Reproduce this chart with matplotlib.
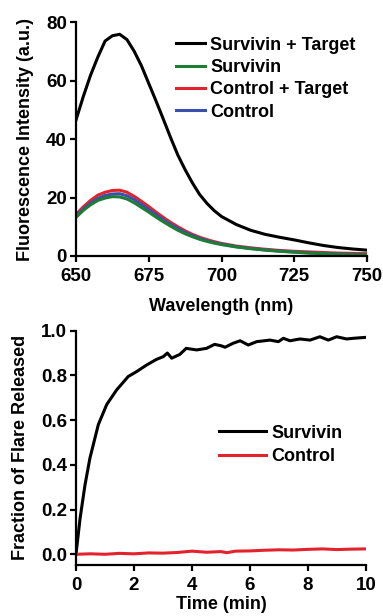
import matplotlib
matplotlib.use("Agg")
import matplotlib.pyplot as plt

plt.rcParams['font.family'] = ['Liberation Sans', 'DejaVu Sans']
plt.rcParams['font.weight'] = 'bold'

# ---- Top panel data: fluorescence spectra ----
wavelength = [650, 652.5, 655, 657.5, 660, 662.5, 665, 667.5, 670, 672.5, 675, 677.5,
              680, 682.5, 685, 687.5, 690, 692.5, 695, 697.5, 700, 705, 710, 715, 720,
              725, 730, 735, 740, 745, 750]
survivin_target = [46.5, 54.5, 61.8, 68.0, 73.5, 75.3, 75.8, 74.0, 70.0, 65.0, 59.0, 53.0,
                   46.8, 40.5, 34.5, 29.5, 25.0, 21.0, 18.0, 15.5, 13.5, 10.8, 8.8, 7.4, 6.4,
                   5.5, 4.5, 3.6, 2.9, 2.4, 2.0]
survivin = [13.2, 15.6, 17.5, 19.0, 19.8, 20.3, 20.2, 19.5, 18.2, 16.6, 15.0, 13.3,
            11.7, 10.2, 8.8, 7.6, 6.6, 5.7, 5.0, 4.4, 3.9, 3.1, 2.5, 2.0, 1.6,
            1.3, 1.0, 0.8, 0.6, 0.5, 0.4]
control_target = [14.2, 16.8, 19.0, 20.8, 21.8, 22.4, 22.5, 21.8, 20.4, 18.7, 16.9, 15.0,
                  13.2, 11.5, 10.0, 8.6, 7.4, 6.4, 5.6, 4.9, 4.3, 3.4, 2.8, 2.3, 1.9,
                  1.6, 1.4, 1.2, 1.0, 0.9, 0.8]
control = [13.6, 16.1, 18.1, 19.7, 20.7, 21.2, 21.3, 20.6, 19.3, 17.6, 15.9, 14.1,
           12.4, 10.8, 9.4, 8.1, 7.0, 6.0, 5.3, 4.6, 4.1, 3.2, 2.6, 2.1, 1.7,
           1.4, 1.1, 0.9, 0.7, 0.6, 0.5]
spec_labels = ['Survivin + Target', 'Survivin', 'Control + Target', 'Control']

# ---- Bottom panel data: kinetics ----
time_surv = [0, 0.14, 0.31, 0.48, 0.77, 1.06, 1.4, 1.8, 2.09, 2.44, 2.78, 3.01, 3.15,
             3.3, 3.58, 3.8, 4.16, 4.5, 4.78, 5.02, 5.14, 5.42, 5.66, 5.94, 6.23, 6.69,
             6.98, 7.15, 7.38, 7.72, 8.07, 8.41, 8.7, 8.99, 9.33, 9.56, 9.97]
frac_surv = [0.0, 0.16, 0.31, 0.43, 0.58, 0.67, 0.735, 0.795, 0.817, 0.847, 0.872, 0.884,
             0.90, 0.877, 0.894, 0.921, 0.914, 0.921, 0.939, 0.932, 0.926, 0.944, 0.955,
             0.936, 0.951, 0.958, 0.951, 0.966, 0.955, 0.963, 0.958, 0.973, 0.958, 0.973,
             0.963, 0.966, 0.97]
time_ctrl = [0, 0.5, 1, 1.5, 2, 2.5, 3, 3.5, 4, 4.5, 5, 5.2, 5.5, 6, 6.5, 7, 7.5, 8,
             8.5, 9, 9.5, 10]
frac_ctrl = [0.0, 0.002, 0.0, 0.004, 0.002, 0.006, 0.005, 0.008, 0.014, 0.009, 0.012, 0.007,
             0.014, 0.015, 0.018, 0.02, 0.019, 0.022, 0.024, 0.021, 0.023, 0.024]
kin_labels = ['Survivin', 'Control']

W, H = 383, 616
fig = plt.figure(figsize=(W / 100, H / 100), dpi=100)

def px_axes(l, r, t, b):
    return fig.add_axes([l / W, 1 - b / H, (r - l) / W, (b - t) / H])

def style(ax):
    for s in ['top', 'right']:
        ax.spines[s].set_visible(False)
    for s in ['left', 'bottom']:
        ax.spines[s].set_linewidth(1.6)
    ax.tick_params(direction='out', length=4, width=1.6, labelsize=13.5)
    ax.tick_params(axis='x', pad=4.8)
    ax.tick_params(axis='y', pad=2.5)
    for lab in ax.get_xticklabels() + ax.get_yticklabels():
        lab.set_fontweight('bold')

# Top panel
ax1 = px_axes(76, 367, 22, 256)
lw = 2.2
ax1.plot(wavelength, survivin_target, color='black', lw=lw, label=spec_labels[0], zorder=3)
ax1.plot(wavelength, control_target, color='#e3232b', lw=lw, label=spec_labels[2], zorder=2)
ax1.plot(wavelength, control, color='#3b4fae', lw=lw, label=spec_labels[3], zorder=2.1)
ax1.plot(wavelength, survivin, color='#1d7d35', lw=lw, label=spec_labels[1], zorder=2.2)
ax1.set_xlim(650, 750)
ax1.set_ylim(0, 80)
ax1.set_xticks([650, 675, 700, 725, 750])
ax1.set_yticks([0, 20, 40, 60, 80])
ax1.set_xlabel('Wavelength (nm)', fontsize=13, fontweight='bold', labelpad=9.5)
ax1.set_ylabel('Fluorescence Intensity (a.u.)', fontsize=13, fontweight='bold', labelpad=8.5)
style(ax1)
h, l = ax1.get_legend_handles_labels()
order = [0, 3, 1, 2]
ax1.legend([h[i] for i in order], [l[i] for i in order], loc='upper left',
           bbox_to_anchor=(176 / W, 1 - 36.5 / H), bbox_transform=fig.transFigure,
           frameon=False, borderpad=0, borderaxespad=0, handlelength=1.6,
           handletextpad=0.3, labelspacing=0.3, prop={'size': 13, 'weight': 'bold'})

# Bottom panel
ax2 = px_axes(76, 366, 330.7, 565)
ax2.plot(time_surv, frac_surv, color='black', lw=lw, label=kin_labels[0])
ax2.plot(time_ctrl, frac_ctrl, color='#e3232b', lw=lw, label=kin_labels[1])
ax2.set_xlim(0, 10)
ax2.set_ylim(-0.048, 1.0)
ax2.set_xticks([0, 2, 4, 6, 8, 10])
ax2.set_yticks([0.0, 0.2, 0.4, 0.6, 0.8, 1.0])
ax2.set_yticklabels(['0.0', '0.2', '0.4', '0.6', '0.8', '1.0'])
ax2.set_xlabel('Time (min)', fontsize=13, fontweight='bold', labelpad=1.5)
ax2.set_ylabel('Fraction of Flare Released', fontsize=13, fontweight='bold', labelpad=8.5)
style(ax2)
ax2.legend(loc='upper left', bbox_to_anchor=(219 / W, 1 - 424.5 / H),
           bbox_transform=fig.transFigure, frameon=False, borderpad=0, borderaxespad=0,
           handlelength=2.6, handletextpad=0.3, labelspacing=0.35,
           prop={'size': 13, 'weight': 'bold'})

fig.savefig('out.png', dpi=100)
